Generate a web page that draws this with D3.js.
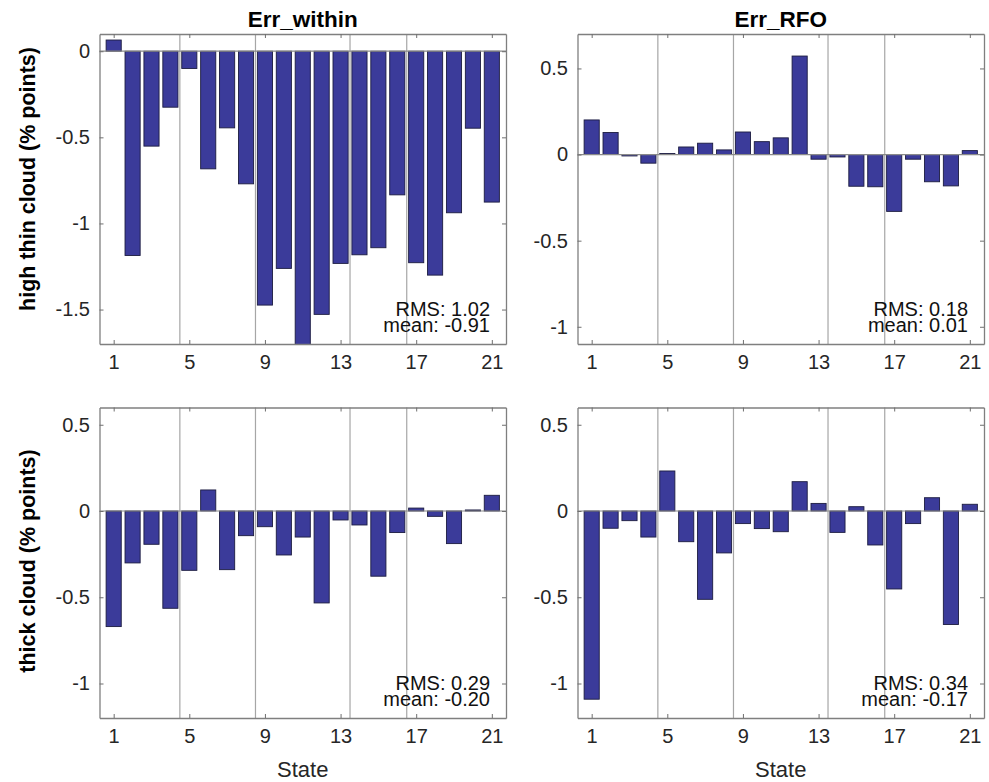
<!DOCTYPE html>
<html><head><meta charset="utf-8">
<script src="https://cdn.jsdelivr.net/npm/d3@7"></script>
<style>body{margin:0;background:#fff;} svg{display:block;font-family:"Liberation Sans",Arial,Helvetica,sans-serif;}</style>
</head><body>
<svg id="c" width="989" height="782"></svg>
<script>
const states = d3.range(1, 22);
const xTicks = [1, 5, 9, 13, 17, 21];
const separators = [4.5, 8.5, 13.5, 16.5];
const colTitles = ["Err_within", "Err_RFO"];
const rowLabels = ["high thin cloud (% points)", "thick cloud (% points)"];
const xLabel = "State";

const highWithin = [0.065, -1.186, -0.551, -0.325, -0.10, -0.683, -0.445, -0.770, -1.474, -1.261, -1.75, -1.528, -1.232, -1.182, -1.141, -0.834, -1.228, -1.300, -0.938, -0.447, -0.876];
const highRFO = [0.201, 0.128, -0.008, -0.050, 0.006, 0.044, 0.066, 0.027, 0.131, 0.075, 0.097, 0.572, -0.027, -0.014, -0.184, -0.187, -0.330, -0.027, -0.158, -0.182, 0.023];
const thickWithin = [-0.670, -0.301, -0.193, -0.564, -0.344, 0.122, -0.340, -0.143, -0.091, -0.255, -0.151, -0.533, -0.052, -0.081, -0.378, -0.125, 0.017, -0.031, -0.189, 0.006, 0.091];
const thickRFO = [-1.091, -0.100, -0.056, -0.151, 0.232, -0.178, -0.512, -0.243, -0.073, -0.102, -0.120, 0.170, 0.044, -0.124, 0.025, -0.197, -0.452, -0.073, 0.077, -0.658, 0.039];

const yDomains = [[-1.7, 0.1], [-1.1, 0.7], [-1.2, 0.6], [-1.2, 0.6]];
const yTicksList = [[-1.5, -1, -0.5, 0], [-1, -0.5, 0, 0.5], [-1, -0.5, 0, 0.5], [-1, -0.5, 0, 0.5]];
const statsText = [["RMS: 1.02", "mean: -0.91"], ["RMS: 0.18", "mean: 0.01"], ["RMS: 0.29", "mean: -0.20"], ["RMS: 0.34", "mean: -0.17"]];
const seriesList = [highWithin, highRFO, thickWithin, thickRFO];

const svg = d3.select("#c");
const boxes = [
  {x0: 99.5, x1: 506, y0: 34, y1: 344},
  {x0: 577.5, x1: 984, y0: 34, y1: 344},
  {x0: 99.5, x1: 506, y0: 407.5, y1: 718},
  {x0: 577.5, x1: 984, y0: 407.5, y1: 718}
];
const fmt = v => (v === 0 ? "0" : String(v));

boxes.forEach((b, i) => {
  const x = d3.scaleLinear().domain([0.25, 21.75]).range([b.x0, b.x1]);
  const y = d3.scaleLinear().domain(yDomains[i]).range([b.y1, b.y0]);
  const g = svg.append("g");
  const clipId = "clip" + i;
  g.append("clipPath").attr("id", clipId).append("rect")
    .attr("x", b.x0).attr("y", b.y0).attr("width", b.x1 - b.x0).attr("height", b.y1 - b.y0);

  g.selectAll(".sep").data(separators).join("line")
    .attr("x1", d => x(d)).attr("x2", d => x(d))
    .attr("y1", b.y0).attr("y2", b.y1)
    .attr("stroke", "#a6a6a6").attr("stroke-width", 1.2);

  const bw = x(0.8) - x(0);
  g.append("g").attr("clip-path", `url(#${clipId})`)
    .selectAll("rect").data(seriesList[i]).join("rect")
    .attr("x", (d, j) => x(states[j]) - bw / 2)
    .attr("width", bw)
    .attr("y", d => y(Math.max(0, d)))
    .attr("height", d => Math.abs(y(d) - y(0)))
    .attr("fill", "#3b3b9a").attr("stroke", "#1c1c40").attr("stroke-width", 0.9);

  g.append("line").attr("x1", b.x0).attr("x2", b.x1).attr("y1", y(0)).attr("y2", y(0))
    .attr("stroke", "#8a8a8a").attr("stroke-width", 1.2);

  const ax = g.append("g").attr("transform", `translate(0,${b.y1})`)
    .call(d3.axisBottom(x).tickValues(xTicks).tickSize(-4).tickPadding(11).tickSizeOuter(0));
  const axTop = g.append("g").attr("transform", `translate(0,${b.y0})`)
    .call(d3.axisTop(x).tickValues(xTicks).tickSize(-4).tickFormat("").tickSizeOuter(0));
  const ay = g.append("g").attr("transform", `translate(${b.x0},0)`)
    .call(d3.axisLeft(y).tickValues(yTicksList[i]).tickSize(-4).tickPadding(9.5).tickFormat(fmt).tickSizeOuter(0));
  const ayR = g.append("g").attr("transform", `translate(${b.x1},0)`)
    .call(d3.axisRight(y).tickValues(yTicksList[i]).tickSize(-4).tickFormat("").tickSizeOuter(0));
  [ax, axTop, ay, ayR].forEach(a => {
    a.select(".domain").attr("stroke", "#7f7f7f").attr("stroke-width", 1.3);
    a.selectAll(".tick line").attr("stroke", "#6f6f6f");
    a.selectAll("text").attr("font-size", 20).attr("fill", "#262626").attr("font-family", "'Liberation Sans',Arial,sans-serif");
  });

  const st = g.append("text").attr("text-anchor", "end").attr("font-size", 20).attr("fill", "#111");
  st.append("tspan").attr("x", b.x1 - 16).attr("y", b.y1 - 28).text(statsText[i][0]);
  st.append("tspan").attr("x", b.x1 - 16).attr("y", b.y1 - 12).text(statsText[i][1]);
});

[0, 1].forEach(c => {
  const b = boxes[c];
  svg.append("text").attr("x", (b.x0 + b.x1) / 2).attr("y", 26.5).attr("text-anchor", "middle")
    .attr("font-size", 22.5).attr("font-weight", "bold").attr("fill", "#000").text(colTitles[c]);
  const bb = boxes[c + 2];
  svg.append("text").attr("x", (bb.x0 + bb.x1) / 2).attr("y", 776.5).attr("text-anchor", "middle")
    .attr("font-size", 22).attr("fill", "#262626").text(xLabel);
});
const rowCenters = [179, 561];
rowLabels.forEach((t, r) => {
  svg.append("text").attr("transform", `translate(35,${rowCenters[r]}) rotate(-90)`).attr("text-anchor", "middle")
    .attr("font-size", 21.5).attr("font-weight", "bold").attr("fill", "#000").text(t);
});
</script>
</body></html>
